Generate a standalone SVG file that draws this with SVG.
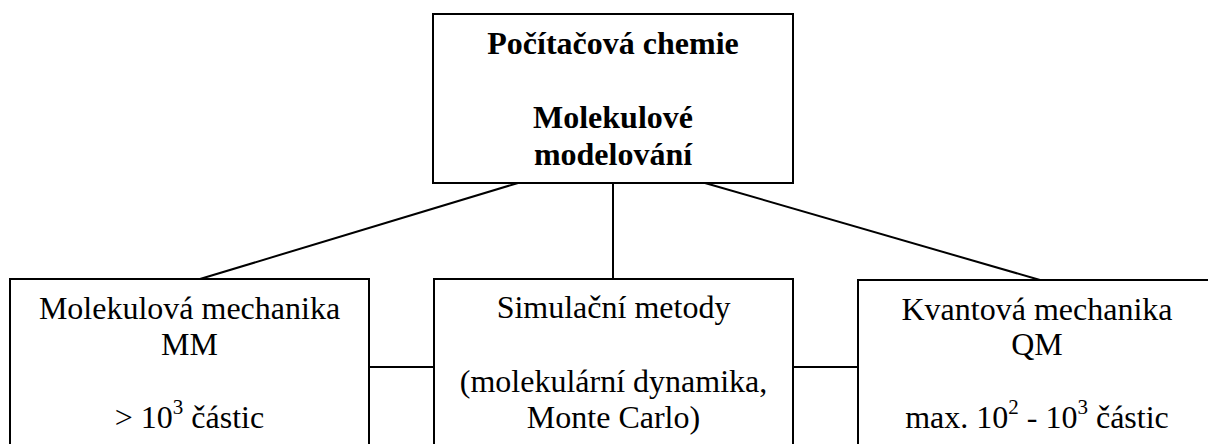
<svg xmlns="http://www.w3.org/2000/svg" width="1208" height="444" viewBox="0 0 1208 444">
<style>
.box{fill:#fff;stroke:#000;stroke-width:2}
.ln{stroke:#000;stroke-width:2;fill:none}
text{font-family:"Liberation Serif","Times New Roman",serif;font-size:32px;fill:#000;text-anchor:middle}
.b{font-weight:bold}
.sup{font-size:21px}
</style>
<rect width="1208" height="444" fill="#fff"/>
<g id="connectors">
<line class="ln" x1="518" y1="183" x2="200" y2="279"/>
<line class="ln" x1="613" y1="183" x2="613" y2="279"/>
<line class="ln" x1="705" y1="183" x2="1040" y2="280"/>
<line class="ln" x1="369" y1="367" x2="434" y2="367"/>
<line class="ln" x1="793" y1="367" x2="858" y2="367"/>
</g>
<g id="top">
<rect class="box" x="433" y="14" width="360" height="169"/>
<text class="b" x="613" y="54" font-family="Liberation Serif, serif">Počítačová chemie</text>
<text class="b" x="613" y="128" font-family="Liberation Serif, serif">Molekulové</text>
<text class="b" x="613" y="165" font-family="Liberation Serif, serif">modelování</text>
</g>
<g id="mm">
<rect class="box" x="10" y="279" width="359" height="200"/>
<text x="189.5" y="319">Molekulová mechanika</text>
<text x="189.5" y="355">MM</text>
<text x="189.5" y="428">&gt; 10<tspan class="sup" dy="-14">3</tspan><tspan dy="14"> částic</tspan></text>
</g>
<g id="sim">
<rect class="box" x="434" y="279" width="359" height="200"/>
<text x="613.5" y="318">Simulační metody</text>
<text x="613.5" y="392">(molekulární dynamika,</text>
<text x="613.5" y="428">Monte Carlo)</text>
</g>
<g id="qm">
<rect class="box" x="858" y="280" width="358" height="200"/>
<text x="1037" y="320">Kvantová mechanika</text>
<text x="1037" y="355">QM</text>
<text x="1037" y="428">max. 10<tspan class="sup" dy="-14">2</tspan><tspan dy="14"> - 10</tspan><tspan class="sup" dy="-14">3</tspan><tspan dy="14"> částic</tspan></text>
</g>
</svg>
